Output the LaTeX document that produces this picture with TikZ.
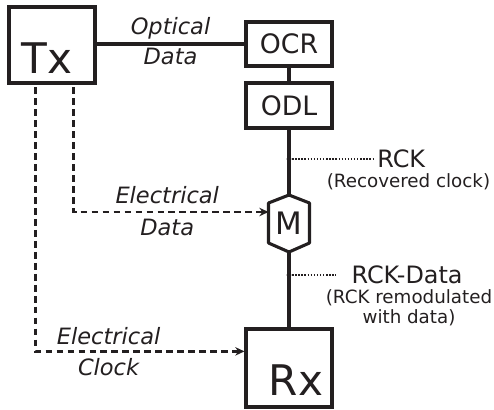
\documentclass[tikz,border=0pt]{standalone}
\usepackage{fontspec}
\setmainfont{DejaVu Sans}
\usepackage{tikz}
\usetikzlibrary{arrows.meta,calc}
\definecolor{ink}{RGB}{35,31,32}

\begin{document}
\begin{tikzpicture}[>={Stealth[length=6.5pt,width=6pt]}, x=0.025cm, y=-0.025cm,
    line width=2.2pt, color=ink,
    box/.style={draw, rectangle, minimum width=2.15cm, inner sep=0pt},
    edash/.style={->, line width=1.9pt, dash pattern=on 4.8pt off 3pt},
    dots/.style={line width=1pt, dash pattern=on 1pt off 1.2pt},
    lab/.style={font=\fontsize{16}{18}\selectfont\itshape},
    big/.style={font=\fontsize{30}{32}\selectfont},
    mid/.style={font=\fontsize{19}{21}\selectfont},
    note/.style={font=\fontsize{13}{14}\selectfont, align=center}]
    \useasboundingbox (0,0) rectangle (494,409);

    % 发射端和接收端
    \node[box, minimum height=1.9cm] (tx) at (52,45) {};
    \node[big, anchor=base] (txtext) at (47,73) {Tx};
    \node[box, minimum height=1.95cm] (rx) at (289,368) {};
    \node[big, anchor=base] (rxtext) at (296,395) {Rx};

    % OCR 和 ODL
    \node[box, mid, minimum height=1.1cm] (ocr) at (289,44) {OCR};
    \node[box, mid, minimum height=1.125cm] (odl) at (289,105.5) {ODL};

    % 调制器 (六边形)
    \coordinate (mt) at (289,195);
    \coordinate (mb) at (289,252);
    \coordinate (ml) at (268.5,212);
    \draw[line join=round] (mt) -- (309.5,203) -- (309.5,243) -- (mb) -- (268.5,243) -- (268.5,203) -- cycle;
    \node[font=\fontsize{22}{24}\selectfont] (m) at (289,223) {M};

    % 光路
    \draw (ocr.west -| tx.east) -- node[lab, above, inner sep=2pt] {Optical}
        node[lab, below, inner sep=2pt] {Data} (ocr.west);
    \draw (ocr) -- (odl);
    \draw (odl) -- (mt);
    \draw (mb) -- (rx);

    % 测量点
    \coordinate (j1) at (289,159);
    \coordinate (j2) at (289,275);
    \fill (j1) circle (1.7pt);
    \fill (j2) circle (1.7pt);
    \node[anchor=west, inner sep=2pt, font=\fontsize{17}{19}\selectfont] (rck) at (373,159) {RCK};
    \node[note] (rcknote) at (408.5,182) {(Recovered clock)};
    \draw[dots] (j1) -- (rck);
    \node[anchor=west, inner xsep=10pt, font=\fontsize{17}{19}\selectfont] (rckdata) at (336,275) {RCK-Data};
    \node[note] (rckdatanote) at (409,308) {(RCK remodulated\\with data)};
    \draw[dots] (j2) -- (rckdata);

    % 电信号 (虚线)
    \coordinate (rxin) at ($(rx.north west)!0.295!(rx.south west)$);
    \draw[edash] ([yshift=-2pt]$(tx.south west)!0.744!(tx.south east)$) |-
        node[lab, pos=0.74, above, inner sep=5pt] {Electrical}
        node[lab, pos=0.74, below, inner sep=4pt] {Data} (ml);
    \draw[edash] ([yshift=-2pt]$(tx.south west)!0.314!(tx.south east)$) |-
        node[lab, pos=0.675, above, inner sep=3.5pt] {Electrical}
        node[lab, pos=0.675, below, inner sep=4pt] {Clock} (rxin);
\end{tikzpicture}
\end{document}
